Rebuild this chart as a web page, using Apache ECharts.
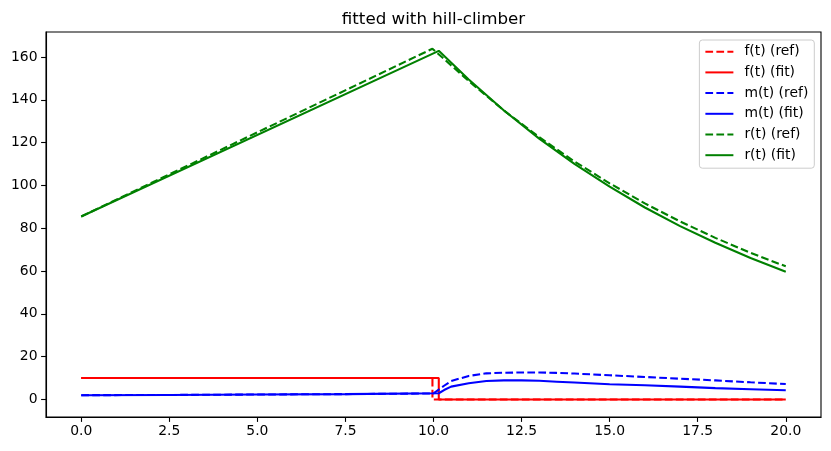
<!DOCTYPE html>
<html>
<head>
<meta charset="utf-8">
<script src="https://cdn.jsdelivr.net/npm/echarts@6/dist/echarts.min.js"></script>
<style>
  html, body { margin: 0; padding: 0; background: #fff; }
  #chart { width: 831px; height: 451px; }
</style>
</head>
<body>
<div id="chart"></div>
<script>
// tick labels
const xTicks = [0, 2.5, 5, 7.5, 10, 12.5, 15, 17.5, 20]
const yTicks = [0, 20, 40, 60, 80, 100, 120, 140, 160]

// f(t)
const fRefT = [0, 9.97, 9.97, 20]
const fRefV = [10, 10, 0, 0]
const fFitT = [0, 10.15, 10.15, 20]
const fFitV = [10, 10, 0, 0]

// m(t)
const mRefT = [0, 2.5, 5, 7.5, 10, 10.3, 10.5, 11, 11.5, 12, 12.5, 13, 13.5, 14, 15, 16, 17, 18, 19, 20]
const mRefV = [2.0, 2.1, 2.3, 2.5, 2.8, 6.4, 8.6, 11.0, 12.2, 12.5, 12.6, 12.6, 12.4, 12.1, 11.3, 10.5, 9.7, 8.9, 8.0, 7.2]
const mFitT = [0, 2.5, 5, 7.5, 10.15, 10.3, 10.5, 11, 11.5, 12, 12.5, 13, 13.5, 14, 15, 16, 17, 18, 19, 20]
const mFitV = [2.0, 2.1, 2.3, 2.5, 2.9, 4.4, 6.0, 7.6, 8.6, 8.9, 8.9, 8.7, 8.3, 7.9, 7.1, 6.6, 6.0, 5.3, 4.8, 4.3]

// r(t)
const rRefT = [0, 9.97, 11, 12, 13, 14, 15, 16, 17, 18, 19, 20]
const rRefV = [85.5, 163.9, 148.8, 135.0, 122.6, 111.2, 101.0, 91.6, 83.2, 75.5, 68.5, 62.2]
const rFitT = [0, 10.15, 11, 12, 13, 14, 15, 16, 17, 18, 19, 20]
const rFitV = [85.5, 162.9, 149.5, 135.0, 121.9, 110.1, 99.4, 89.7, 81.0, 73.2, 66.1, 59.7]

const font = "DejaVu Sans"
const dash = [7.7, 3.3]

const zip = (t, v) => t.map((x, i) => [x, v[i]])

const mkLine = (name, t, v, color, dashed) => ({
  name,
  type: "line",
  symbol: "none",
  data: zip(t, v),
  lineStyle: { color, width: 2.08, type: dashed ? dash : "solid" },
  itemStyle: { color },
  animation: false
})

const chart = echarts.init(document.getElementById("chart"), null, { renderer: "canvas" })
chart.setOption({
  backgroundColor: "#fff",
  animation: false,
  graphic: [{
    type: "text",
    x: 433.5,
    y: 19.5,
    style: {
      text: "fitted with hill-climber",
      font: "16.7px 'DejaVu Sans'",
      fill: "#000",
      textAlign: "center",
      textVerticalAlign: "middle"
    }
  }],
  grid: {
    left: 46, right: 10, top: 32, bottom: 34,
    show: true, borderColor: "#000", borderWidth: 1.1,
    backgroundColor: "transparent",
    outerBoundsMode: "none"
  },
  legend: {
    orient: "vertical",
    right: 16.7,
    top: 40,
    itemWidth: 28,
    itemHeight: 14,
    itemGap: 6.7,
    padding: [4.7, 6, 6, 5],
    backgroundColor: "rgba(255,255,255,0.8)",
    borderColor: "#cccccc",
    borderWidth: 1,
    borderRadius: 3,
    itemStyle: { opacity: 0 },
    textStyle: { fontFamily: font, fontSize: 13.9, color: "#000", padding: [0, 0, 0, 6] },
    data: ["f(t) (ref)", "f(t) (fit)", "m(t) (ref)", "m(t) (fit)", "r(t) (ref)", "r(t) (fit)"]
  },
  xAxis: {
    type: "value",
    min: -1,
    max: 21,
    splitLine: { show: false },
    axisLine: { show: true, onZero: false, lineStyle: { color: "#000", width: 1.1 } },
    axisTick: { show: true, length: 4.9, lineStyle: { color: "#000", width: 1.1 }, customValues: xTicks },
    axisLabel: {
      customValues: xTicks,
      formatter: v => v.toFixed(1),
      margin: 7.5,
      color: "#000",
      fontFamily: font,
      fontSize: 13.9
    }
  },
  yAxis: {
    type: "value",
    min: -8.2,
    max: 171.7,
    splitLine: { show: false },
    axisLine: { show: true, onZero: false, lineStyle: { color: "#000", width: 1.1 } },
    axisTick: { show: true, length: 4.9, lineStyle: { color: "#000", width: 1.1 }, customValues: yTicks },
    axisLabel: {
      customValues: yTicks,
      margin: 8.5,
      color: "#000",
      fontFamily: font,
      fontSize: 13.9
    }
  },
  series: [
    mkLine("f(t) (ref)", fRefT, fRefV, "#ff0000", true),
    mkLine("f(t) (fit)", fFitT, fFitV, "#ff0000", false),
    mkLine("m(t) (ref)", mRefT, mRefV, "#0000ff", true),
    mkLine("m(t) (fit)", mFitT, mFitV, "#0000ff", false),
    mkLine("r(t) (ref)", rRefT, rRefV, "#008000", true),
    mkLine("r(t) (fit)", rFitT, rFitV, "#008000", false)
  ]
})
</script>
</body>
</html>
